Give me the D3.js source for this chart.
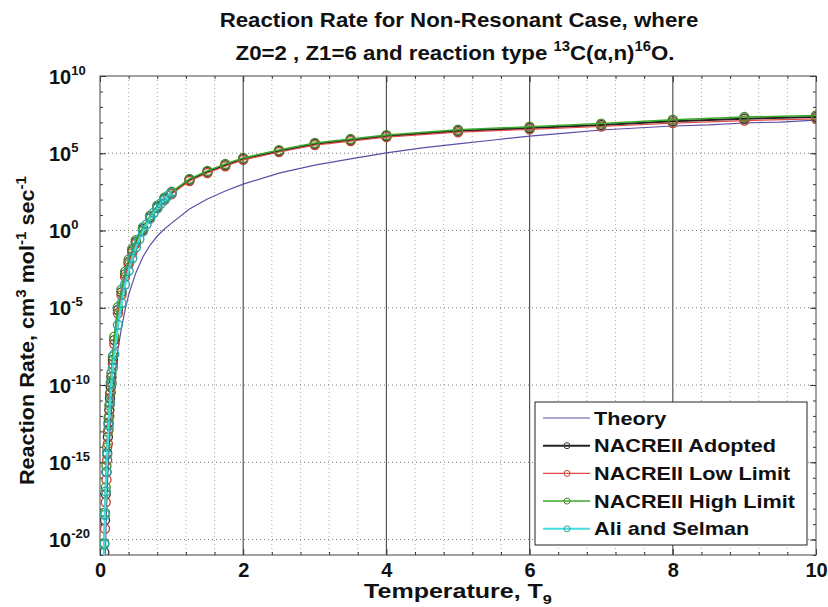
<!DOCTYPE html>
<html>
<head>
<meta charset="utf-8">
<script src="https://cdn.jsdelivr.net/npm/d3@7"></script>
<style>
  body { margin: 0; background: #fff; }
  svg { display: block; font-family: Arial, "Liberation Sans", sans-serif; }
</style>
</head>
<body>
<svg id="chart"></svg>
<script>
// temperatures (T9) of the NACRE II grid
const tNacre = [0.06, 0.07, 0.08, 0.09, 0.10, 0.11, 0.12, 0.13, 0.14, 0.15, 0.16, 0.18, 0.20, 0.25,
  0.30, 0.35, 0.40, 0.45, 0.50, 0.60, 0.70, 0.80, 0.90, 1.00, 1.25, 1.50, 1.75, 2.0, 2.5, 3.0,
  3.5, 4.0, 5.0, 6.0, 7.0, 8.0, 9.0, 10.0];
const nacreAdopted = [1.5e-21, 1.8e-19, 8.7e-18, 2.3e-16, 4.0e-15, 4.3e-14, 3.5e-13, 2.4e-12, 1.4e-11,
  7.4e-11, 3.3e-10, 4.2e-9, 8.1e-8, 7.1e-6, 1.0e-4, 1.5e-3, 9.1e-3, 4.7e-2, 0.18, 1.26, 7.4, 33, 110,
  270, 1.9e3, 6.2e3, 1.7e4, 4.3e4, 1.4e5, 4.0e5, 7.2e5, 1.3e6, 2.8e6, 4.3e6, 6.8e6, 1.2e7, 1.7e7, 2.2e7];
const nacreLow = [4e-22, 5e-20, 2.6e-18, 7.5e-17, 1.4e-15, 1.6e-14, 1.4e-13, 1.0e-12, 6.2e-12,
  3.4e-11, 1.6e-10, 2.2e-9, 4.5e-8, 4.4e-6, 6.6e-5, 1.0e-3, 6.5e-3, 3.5e-2, 0.14, 1.0, 6.0, 27, 92,
  230, 1.6e3, 5.3e3, 1.45e4, 3.7e4, 1.2e5, 3.4e5, 6.1e5, 1.1e6, 2.3e6, 3.5e6, 5.4e6, 9.0e6, 1.3e7, 1.7e7];
const nacreHigh = [6e-21, 5.5e-19, 2.4e-17, 5.8e-16, 9.5e-15, 9.5e-14, 7.3e-13, 4.8e-12, 2.7e-11,
  1.4e-10, 6.0e-10, 7.2e-9, 1.35e-7, 1.1e-5, 1.5e-4, 2.2e-3, 1.3e-2, 6.4e-2, 0.24, 1.6, 9.2, 40, 132,
  320, 2.2e3, 7.2e3, 2.0e4, 5.0e4, 1.6e5, 4.6e5, 8.3e5, 1.5e6, 3.3e6, 5.2e6, 8.3e6, 1.5e7, 2.2e7, 2.8e7];

const tTheory = [0.07, 0.08, 0.09, 0.1, 0.12, 0.14, 0.16, 0.18, 0.2, 0.25, 0.3, 0.35, 0.4, 0.5, 0.6,
  0.7, 0.8, 0.9, 1.0, 1.25, 1.5, 1.75, 2, 2.5, 3, 3.5, 4, 4.5, 5, 5.5, 6, 6.5, 7, 7.5, 8, 8.5, 9, 9.5, 10];
const theory = [5e-23, 1e-20, 6.3e-19, 1.6e-17, 2e-15, 1e-13, 2e-12, 2.5e-11, 2e-10, 2e-8, 5e-7, 7e-6,
  6.8e-5, 1.8e-3, 2e-2, 0.115, 0.44, 1.26, 3.0, 25, 110, 360, 1.0e3, 5.2e3, 1.7e4, 4.3e4, 1.05e5,
  2.2e5, 4.0e5, 7.2e5, 1.3e6, 2.0e6, 3.2e6, 4.3e6, 5.8e6, 6.8e6, 9.1e6, 1.05e7, 1.4e7];

const tAli = [0.03, 0.04, 0.05, 0.06, 0.07, 0.08, 0.09, 0.1, 0.12, 0.14, 0.16, 0.18, 0.2, 0.25, 0.3,
  0.35, 0.4, 0.45, 0.5, 0.55, 0.6, 0.65, 0.7, 0.75, 0.8, 0.85, 0.9, 0.95, 1.0];
const aliSelman = [1e-29, 3e-26, 2.5e-23, 5e-21, 4e-19, 1.3e-17, 2.5e-16, 3.2e-15, 2.5e-13, 7.9e-12,
  1.26e-10, 1.26e-9, 1e-8, 7.9e-7, 2e-5, 3.2e-4, 2.5e-3, 1.6e-2, 7.9e-2, 0.28, 0.89, 2.5, 6.3, 14, 28,
  56, 100, 178, 282];

const xTicks = [0, 2, 4, 6, 8, 10];
const yExponents = [-20, -15, -10, -5, 0, 5, 10];
const legendNames = ["Theory", "NACREII Adopted", "NACREII Low Limit", "NACREII High Limit", "Ali and Selman"];

const width = 828, height = 607;
const plotL = 100, plotR = 816, plotT = 76, plotB = 555;

const svg = d3.select("#chart").attr("width", width).attr("height", height);
svg.append("rect").attr("width", width).attr("height", height).attr("fill", "#fff");

const x = d3.scaleLinear().domain([0, 10]).range([plotL, plotR]);
const y = d3.scaleLog().domain([1e-21, 1e10]).range([plotB, plotT]);

svg.append("defs").append("clipPath").attr("id", "plot")
  .append("rect").attr("x", plotL).attr("y", plotT).attr("width", plotR - plotL).attr("height", plotB - plotT);

// stretch text sideways like the reference's wide bold lettering
function widen(sel, k) {
  sel.each(function () {
    const len = this.getComputedTextLength();
    d3.select(this).attr("textLength", len * k).attr("lengthAdjust", "spacingAndGlyphs");
  });
}

// grid
const minorX = d3.range(0, 10.01, 0.4).filter(v => v > 0.01 && v < 9.99 && Math.abs(v / 2 - Math.round(v / 2)) > 0.01);
svg.append("g").selectAll("line").data(minorX).join("line")
  .attr("x1", d => x(d)).attr("x2", d => x(d)).attr("y1", plotT).attr("y2", plotB)
  .attr("stroke", "#aaa").attr("stroke-dasharray", "1,3");
svg.append("g").selectAll("line").data(xTicks.slice(1, -1)).join("line")
  .attr("x1", d => x(d)).attr("x2", d => x(d)).attr("y1", plotT).attr("y2", plotB)
  .attr("stroke", "#555").attr("stroke-width", 1.2);
svg.append("g").selectAll("line").data(yExponents.slice(0, -1)).join("line")
  .attr("x1", plotL).attr("x2", plotR).attr("y1", d => y(Math.pow(10, d))).attr("y2", d => y(Math.pow(10, d)))
  .attr("stroke", "#777").attr("stroke-dasharray", "1,3");

// axes with inward ticks
const gx = svg.append("g").attr("transform", `translate(0,${plotB})`)
  .call(d3.axisBottom(x).tickValues(xTicks).tickSize(-6).tickPadding(8).tickFormat(d3.format("d")));
svg.append("g").attr("transform", `translate(0,${plotT})`)
  .call(d3.axisTop(x).tickValues(xTicks).tickSize(-6).tickFormat(""));
svg.append("g").attr("transform", `translate(0,${plotB})`)
  .call(d3.axisBottom(x).tickValues(minorX).tickSize(-3).tickFormat(""));
svg.append("g").attr("transform", `translate(0,${plotT})`)
  .call(d3.axisTop(x).tickValues(minorX).tickSize(-3).tickFormat(""));

const decades = d3.range(-21, 11).map(e => Math.pow(10, e));
const gy = svg.append("g").attr("transform", `translate(${plotL},0)`)
  .call(d3.axisLeft(y).tickValues(yExponents.map(e => Math.pow(10, e))).tickSize(-6).tickFormat(""));
svg.append("g").attr("transform", `translate(${plotR},0)`)
  .call(d3.axisRight(y).tickValues(yExponents.map(e => Math.pow(10, e))).tickSize(-6).tickFormat(""));
svg.append("g").attr("transform", `translate(${plotL},0)`)
  .call(d3.axisLeft(y).tickValues(decades).tickSize(-3).tickFormat(""));
svg.append("g").attr("transform", `translate(${plotR},0)`)
  .call(d3.axisRight(y).tickValues(decades).tickSize(-3).tickFormat(""));

svg.selectAll(".domain").remove();
svg.selectAll(".tick line").attr("stroke", "#333");

gx.selectAll("text").attr("font-size", 20).attr("font-weight", "bold").attr("fill", "#111");

gy.selectAll(".tick").each(function (d) {
  const t = d3.select(this).append("text")
    .attr("x", -51).attr("dy", "0.35em").attr("text-anchor", "start")
    .attr("font-size", 20).attr("font-weight", "bold").attr("fill", "#111");
  t.append("tspan").text("10");
  t.append("tspan").attr("dy", -9).attr("font-size", 13).text(Math.round(Math.log10(d)));
});

// box
svg.append("rect").attr("x", plotL).attr("y", plotT).attr("width", plotR - plotL).attr("height", plotB - plotT)
  .attr("fill", "none").attr("stroke", "#444");

// series
const series = [
  { name: legendNames[0], t: tTheory, v: theory, color: "#5b4ea6", width: 1.2, marker: false },
  { name: legendNames[1], t: tNacre, v: nacreAdopted, color: "#222", mcolor: "#3a3a3a", width: 2, marker: true },
  { name: legendNames[2], t: tNacre, v: nacreLow, color: "#e04a4a", mcolor: "#b84a3a", width: 1.2, marker: true },
  { name: legendNames[3], t: tNacre, v: nacreHigh, color: "#3aaa2a", mcolor: "#4a8a2a", width: 1.5, marker: true },
  { name: legendNames[4], t: tAli, v: aliSelman, color: "#44dddd", mcolor: "#2aa8a8", width: 2.5, marker: true }
];

const plot = svg.append("g").attr("clip-path", "url(#plot)");
const line = d3.line().x(d => x(d[0])).y(d => y(d[1]));
series.forEach(s => {
  const pts = s.t.map((t, i) => [t, s.v[i]]);
  plot.append("path").datum(pts).attr("d", line)
    .attr("fill", "none").attr("stroke", s.color).attr("stroke-width", s.width);
  if (s.marker) {
    plot.append("g").selectAll("circle").data(pts).join("circle")
      .attr("cx", d => x(d[0])).attr("cy", d => y(d[1])).attr("r", 4.5)
      .attr("fill", "none").attr("stroke", s.mcolor).attr("stroke-width", 1.4);
  }
});

// title
const title = svg.append("g").attr("font-weight", "bold").attr("font-size", 21).attr("fill", "#111")
  .attr("text-anchor", "middle");
title.append("text").attr("x", 459).attr("y", 27).text("Reaction Rate for Non-Resonant Case, where")
  .call(widen, 1.06);
const t2 = title.append("text").attr("x", 455).attr("y", 60);
t2.append("tspan").text("Z0=2 , Z1=6 and reaction type ");
t2.append("tspan").attr("dy", -9).attr("font-size", 14).text("13");
t2.append("tspan").attr("dy", 9).text("C(\u03b1,n)");
t2.append("tspan").attr("dy", -9).attr("font-size", 14).text("16");
t2.append("tspan").attr("dy", 9).text("O.");
t2.call(widen, 1.06);

// axis labels
svg.append("text").attr("x", 458).attr("y", 598).attr("text-anchor", "middle")
  .attr("font-size", 20).attr("font-weight", "bold").attr("fill", "#111")
  .call(t => {
    t.append("tspan").text("Temperature, T");
    t.append("tspan").attr("dy", 6).attr("font-size", 13).text("9");
  })
  .call(widen, 1.25);

svg.append("text").attr("transform", `translate(34,${(plotT + plotB) / 2 + 15}) rotate(-90)`)
  .attr("text-anchor", "middle").attr("font-size", 20).attr("font-weight", "bold").attr("fill", "#111")
  .call(t => {
    t.append("tspan").text("Reaction Rate, cm");
    t.append("tspan").attr("dy", -8).attr("font-size", 14).text("3");
    t.append("tspan").attr("dy", 8).text(" mol");
    t.append("tspan").attr("dy", -8).attr("font-size", 14).text("-1");
    t.append("tspan").attr("dy", 8).text(" sec");
    t.append("tspan").attr("dy", -8).attr("font-size", 14).text("-1");
  })
  .call(widen, 1.08);

// legend
const lg = svg.append("g");
lg.append("rect").attr("x", 535).attr("y", 402).attr("width", 272).attr("height", 143)
  .attr("fill", "#fff").attr("stroke", "#222");
series.forEach((s, i) => {
  const ly = 418 + i * 27.7;
  lg.append("line").attr("x1", 543).attr("x2", 590).attr("y1", ly).attr("y2", ly)
    .attr("stroke", s.color).attr("stroke-width", Math.min(s.width, 2));
  if (s.marker) {
    lg.append("circle").attr("cx", 567).attr("cy", ly).attr("r", 3)
      .attr("fill", "none").attr("stroke", s.mcolor).attr("stroke-width", 1);
  }
  lg.append("text").attr("x", 594).attr("y", ly).attr("dy", "0.35em")
    .attr("font-size", 19).attr("font-weight", "bold").attr("fill", "#111").text(s.name)
    .call(widen, 1.14);
});
</script>
</body>
</html>
